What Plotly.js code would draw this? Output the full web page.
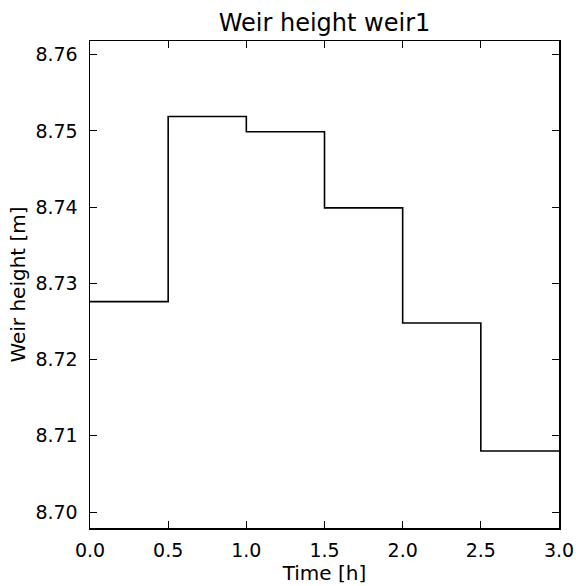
<!DOCTYPE html>
<html>
<head>
<meta charset="utf-8">
<script src="https://cdn.plot.ly/plotly-3.0.1.min.js"></script>
<style>html,body{margin:0;padding:0;background:#fff;}#chart{width:576px;height:586px;}</style>
</head>
<body>
<div id="chart"></div>
<script>
const timeHours = [0.0, 0.5, 1.0, 1.5, 2.0, 2.5, 3.0];
const weirHeight = [8.7276, 8.7519, 8.7499, 8.7399, 8.7248, 8.7080, 8.7080];
const chartTitle = 'Weir height weir1';
const xLabel = 'Time [h]';
const yLabel = 'Weir height [m]';

const font = 'DejaVu Sans, sans-serif';
const data = [{
  x: timeHours,
  y: weirHeight,
  type: 'scatter',
  mode: 'lines',
  line: {shape: 'hv', color: '#000', width: 1.6},
  hoverinfo: 'skip'
}];
const axisCommon = {
  showline: true, linecolor: '#000', linewidth: 1.5, mirror: 'ticks',
  ticks: 'inside', ticklen: 7, tickwidth: 1, tickcolor: '#000',
  showgrid: false, zeroline: false,
  tickfont: {family: font, size: 19, color: '#000'}
};
const layout = {
  width: 576, height: 586,
  margin: {l: 90, r: 17, t: 41, b: 58},
  paper_bgcolor: '#fff', plot_bgcolor: '#fff',
  showlegend: false,
  title: {text: chartTitle, font: {family: font, size: 24, color: '#000'},
          x: 0.5, xref: 'paper', xanchor: 'center', y: 1, yref: 'paper', yanchor: 'bottom', pad: {b: 10}},
  xaxis: Object.assign({}, axisCommon, {
    range: [0, 3], tick0: 0, dtick: 0.5, tickformat: '.1f', ticklabelstandoff: 5,
    title: {text: xLabel, font: {family: font, size: 20, color: '#000'}, standoff: 2}
  }),
  yaxis: Object.assign({}, axisCommon, {
    range: [8.6979, 8.7618], tick0: 8.70, dtick: 0.01, tickformat: '.2f', ticklabelstandoff: 7,
    title: {text: yLabel, font: {family: font, size: 20, color: '#000'}, standoff: 4}
  })
};
Plotly.newPlot('chart', data, layout, {displayModeBar: false, staticPlot: true});
</script>
</body>
</html>
